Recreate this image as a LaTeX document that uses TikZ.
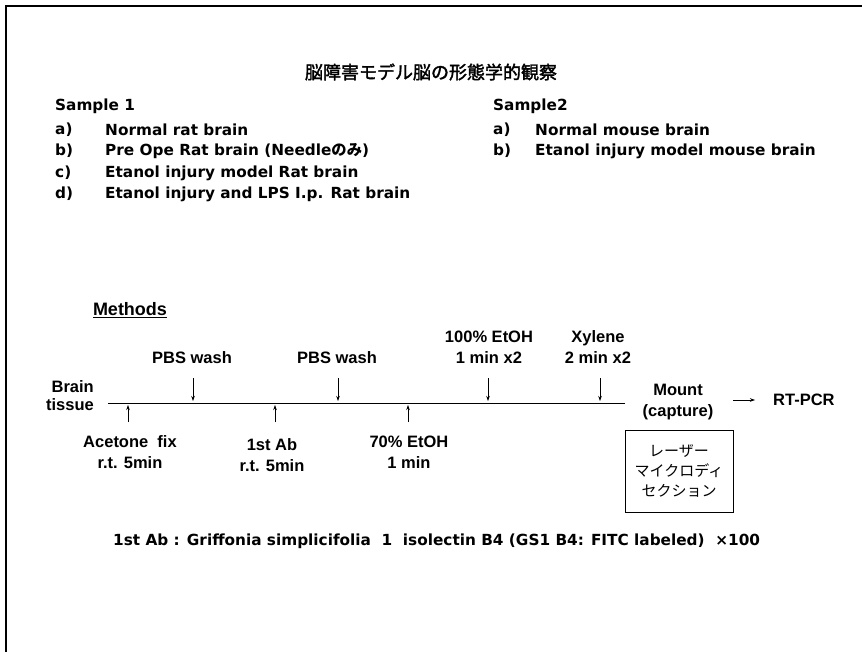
\documentclass[tikz,border=0pt]{standalone}
\usepackage{fontspec}
\setmainfont{Liberation Sans}
\newfontfamily\gothic{DejaVu Sans}
\newfontfamily\jp{Noto Sans CJK JP}
\newfontfamily\jpb{Noto Sans CJK JP}[FakeBold=2]
\usetikzlibrary{arrows.meta}
\begin{document}
\begin{tikzpicture}[x=1pt,y=-1pt,
  listtxt/.style={anchor=west,inner sep=0pt,font=\gothic\bfseries\fontsize{15.3}{17}\selectfont},
  tltxt/.style={inner sep=0pt,align=center,font=\bfseries\fontsize{16.5}{20.5}\selectfont},
  arr/.style={line width=0.6pt,-{Stealth[length=5pt,width=3.5pt]}},
  frame/.style={line width=1.4pt}]
\useasboundingbox (0,0) rectangle (862,652);
% frame (top and left edges)
\coordinate (fa) at (6,652);
\coordinate (fb) at (6,6);
\coordinate (fc) at (862,6);
\draw[frame] (fa) -- (fb) -- (fc);
% title
\node[inner sep=0pt,font=\jpb\fontsize{18}{20}\selectfont] (title) at (431,72) {脳障害モデル脳の形態学的観察};
% Sample 1
\node[listtxt] (s1) at (55,106) {Sample 1};
\node[listtxt] (s1a) at (55,130) {a)};
\node[listtxt] (s1at) at (105,130) {Normal rat brain};
\node[listtxt] (s1b) at (55,151) {b)};
\node[listtxt] (s1bt) at (105,151) {Pre Ope Rat brain (Needle{\jp\bfseries のみ})};
\node[listtxt] (s1c) at (55,173) {c)};
\node[listtxt] (s1ct) at (105,173) {Etanol injury model Rat brain};
\node[listtxt] (s1d) at (55,194) {d)};
\node[listtxt] (s1dt) at (105,194) {Etanol injury and LPS I.p. Rat brain};
% Sample 2
\node[listtxt] (s2) at (493,106) {Sample2};
\node[listtxt] (s2a) at (493,130) {a)};
\node[listtxt] (s2at) at (535,130) {Normal mouse brain};
\node[listtxt] (s2b) at (493,151) {b)};
\node[listtxt] (s2bt) at (535,151) {Etanol injury model mouse brain};
% Methods
\node[inner sep=0pt,font=\bfseries\fontsize{18}{20}\selectfont] (methods) at (130,310) {\underline{Methods}};
% timeline
\node[tltxt,align=right,anchor=east,font=\bfseries\fontsize{16.5}{18}\selectfont] (brain) at (94,396) {Brain\\tissue};
\coordinate (t0) at (108,403);
\coordinate (t1) at (625,403);
\draw[line width=0.8pt] (t0) -- (t1);
% labels above
\node[tltxt] (pbs1) at (192,358) {PBS wash};
\node[tltxt] (pbs2) at (337,358) {PBS wash};
\node[tltxt] (etoh100) at (489,347) {100\% EtOH\\1 min x2};
\node[tltxt] (xyl) at (598,347) {Xylene\\2 min x2};
% labels below
\node[tltxt] (acet) at (130,452) {Acetone\ \ fix\\r.t. 5min};
\node[tltxt] (ab1) at (272,455) {1st Ab\\r.t. 5min};
\node[tltxt] (etoh70) at (409,452) {70\% EtOH\\1 min};
% down arrows
\foreach \n/\x in {d1/193,d2/338,d3/488,d4/600}{
  \coordinate (\n s) at (\x,378);
  \coordinate (\n e) at (\x,401);
  \draw[arr] (\n s) -- (\n e);
}
% up arrows
\foreach \n/\x in {u1/128,u2/275,u3/408}{
  \coordinate (\n s) at (\x,422);
  \coordinate (\n e) at (\x,405);
  \draw[arr] (\n s) -- (\n e);
}
% mount
\node[tltxt] (mount) at (678,402) {Mount\\(capture)};
\node[tltxt,anchor=west] (rtpcr) at (773,400) {RT-PCR};
\coordinate (ma) at (733,400);
\coordinate (mb) at (755,400);
\draw[arr] (ma) -- (mb);
% laser microdissection box
\node[draw,line width=0.8pt,minimum width=108,minimum height=82,inner sep=0pt,align=center,
  font=\jp\fontsize{15}{20}\selectfont] (lmd) at (679,471) {レーザー\\マイクロディ\\セクション};
% bottom note
\node[listtxt] (note) at (113,541) {1st Ab : Griffonia simplicifolia\ \ 1\ \ isolectin B4 (GS1 B4: FITC labeled)\ \ ×100};
\end{tikzpicture}
\end{document}
